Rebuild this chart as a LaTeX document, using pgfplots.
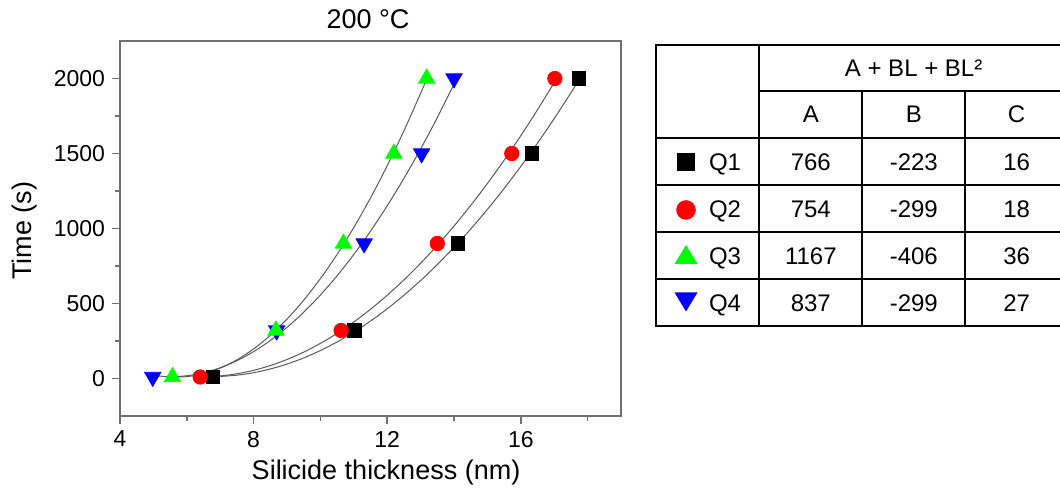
\documentclass[border=0pt]{standalone}
\usepackage{pgfplots}
\pgfplotsset{compat=1.18}
\usepackage{fontspec}
\setmainfont{Liberation Sans}
\definecolor{axgray}{HTML}{707070}
\definecolor{curvegray}{HTML}{5A5A5A}
\definecolor{qred}{HTML}{FF0000}
\definecolor{qgreen}{HTML}{00FF00}
\definecolor{qblue}{HTML}{0000FF}
\begin{document}
\begin{tikzpicture}
\useasboundingbox (0,0) rectangle (530pt,246pt);
\begin{axis}[
  at={(60pt,38pt)}, anchor=south west,
  scale only axis, width=250.5pt, height=187.5pt,
  xmin=4, xmax=19, ymin=-250, ymax=2250,
  xtick={4,8,12,16}, minor xtick={6,10,14,18},
  ytick={0,500,1000,1500,2000}, minor ytick={250,750,1250,1750},
  tick pos=left, tick align=outside,
  major tick length=4pt, minor tick length=2.5pt,
  axis line style={axgray, line width=0.75pt},
  every tick/.style={axgray, line width=0.75pt},
  tick label style={font=\fontsize{11.5}{13}\selectfont},
  /pgf/number format/assume math mode=true,
  /pgf/number format/1000 sep={},
  scaled x ticks=false, scaled y ticks=false,
  title={200 °C},
  xlabel={Silicide thickness (nm)}, ylabel={Time (s)},
  every axis x label/.style={at={(axis description cs:0.531,-0.1515)},anchor=center,font=\fontsize{13.5}{16}\selectfont},
  every axis y label/.style={at={(axis description cs:-0.1896,0.494)},rotate=90,anchor=center,font=\fontsize{13.5}{16}\selectfont},
  every axis title/.style={at={(axis description cs:0.495,1.0587)},anchor=center,font=\fontsize{13.5}{16}\selectfont},
]
% fitted curves
\addplot[curvegray, line width=0.5pt, no marks, smooth] coordinates {
(6.79,12.7) (7.0,13.8) (7.5,22.1) (8.0,38.6) (8.5,63.3) (9.0,96.2) (9.5,137.1) (10.0,186.4) (10.5,243.7) (11.0,309.2) (11.5,382.9) (12.0,464.8) (12.5,554.9) (13.0,653.0) (13.5,759.5) (14.0,874.0) (14.5,996.7) (15.0,1127.6) (15.5,1266.7) (16.0,1413.8) (16.5,1569.3) (17.0,1732.8) (17.5,1904.6) (17.74,1990)};
\addplot[curvegray, line width=0.5pt, no marks, smooth] coordinates {
(6.40,12.1) (7.0,17.4) (7.5,31.5) (8.0,54.4) (8.5,86.2) (9.0,126.7) (9.5,176.0) (10.0,234.2) (10.5,301.1) (11.0,376.9) (11.5,461.4) (12.0,554.8) (12.5,657.0) (13.0,768.0) (13.5,887.7) (14.0,1016.4) (14.5,1153.8) (15.0,1300.0) (15.5,1455.0) (16.0,1618.8) (16.5,1791.5) (17.02,1980)};
\addplot[curvegray, line width=0.5pt, no marks, smooth] coordinates {
(5.57,9.6) (6.0,12.3) (6.5,31.8) (7.0,69.2) (7.5,124.3) (8.0,197.1) (8.5,287.6) (9.0,396.0) (9.5,522.0) (10.0,665.8) (10.5,827.3) (11.0,1006.6) (11.5,1203.6) (12.0,1418.3) (12.5,1650.8) (13.0,1901.0) (13.18,1995.5)};
\addplot[curvegray, line width=0.5pt, no marks, smooth] coordinates {
(4.98,19.7) (5.5,12.0) (6.0,18.3) (6.5,38.2) (7.0,71.6) (7.5,118.6) (8.0,179.1) (8.5,253.2) (9.0,340.8) (9.5,442.0) (10.0,556.7) (10.5,685.0) (11.0,826.8) (11.5,982.2) (12.0,1151.1) (12.5,1333.6) (13.0,1529.6) (13.5,1739.2) (14.0,1962.3)};
% data points
\addplot[only marks, mark=square*, mark size=3.3pt, mark options={fill=black, draw=black}] coordinates {
(6.79,10) (11.02,320) (14.11,900) (16.33,1500) (17.74,2000)};
\addplot[only marks, mark=*, mark size=3.6pt, mark options={fill=qred, draw=qred}] coordinates {
(6.40,10) (10.62,320) (13.50,900) (15.73,1500) (17.02,2000)};
\addplot[only marks, mark=triangle*, mark size=4.7pt, mark options={fill=qblue, draw=qblue, rotate=180}] coordinates {
(4.98,10) (8.69,320) (11.31,900) (13.03,1500) (14.00,2000)};
\addplot[only marks, mark=triangle*, mark size=4.7pt, mark options={fill=qgreen, draw=qgreen}] coordinates {
(5.57,10) (8.67,320) (10.69,900) (12.20,1500) (13.18,2000)};
\end{axis}
% table
\begin{scope}[line width=1pt]
\draw (328pt,83.15pt) rectangle (534pt,223.65pt);
\draw (379.65pt,83.15pt) -- (379.65pt,223.65pt);
\draw (431.15pt,83.15pt) -- (431.15pt,200.65pt);
\draw (482.65pt,83.15pt) -- (482.65pt,200.65pt);
\draw (379.65pt,200.65pt) -- (534pt,200.65pt);
\foreach \yy in {177,153.5,129.85,106.35} \draw (328pt,\yy pt) -- (534pt,\yy pt);
\end{scope}
\begin{scope}[every node/.style={font=\fontsize{12}{14}\selectfont, anchor=base, inner sep=0pt}]
\node at (456.8pt,207.85pt) {A + BL + BL²};
\node at (405.4pt,184.5pt) {A};
\node at (456.9pt,184.5pt) {B};
\node at (508.3pt,184.5pt) {C};
% rows
\node at (362.5pt,160.95pt) {Q1};
\node at (405.4pt,160.95pt) {766};
\node at (456.9pt,160.95pt) {-223};
\node at (508.3pt,160.95pt) {16};
\node at (362.5pt,137.4pt) {Q2};
\node at (405.4pt,137.4pt) {754};
\node at (456.9pt,137.4pt) {-299};
\node at (508.3pt,137.4pt) {18};
\node at (362.5pt,113.8pt) {Q3};
\node at (405.4pt,113.8pt) {1167};
\node at (456.9pt,113.8pt) {-406};
\node at (508.3pt,113.8pt) {36};
\node at (362.5pt,90.45pt) {Q4};
\node at (405.4pt,90.45pt) {837};
\node at (456.9pt,90.45pt) {-299};
\node at (508.3pt,90.45pt) {27};
\end{scope}
% legend glyphs in table
\fill[black] (338.5pt,160.25pt) rectangle (347.5pt,169.25pt);
\fill[qred] (343pt,141pt) circle (4.9pt);
\fill[qgreen] (337.25pt,114pt) -- (348.75pt,114pt) -- (343pt,123.5pt) -- cycle;
\fill[qblue] (337.25pt,99.75pt) -- (348.75pt,99.75pt) -- (343pt,90.25pt) -- cycle;
\end{tikzpicture}
\end{document}
